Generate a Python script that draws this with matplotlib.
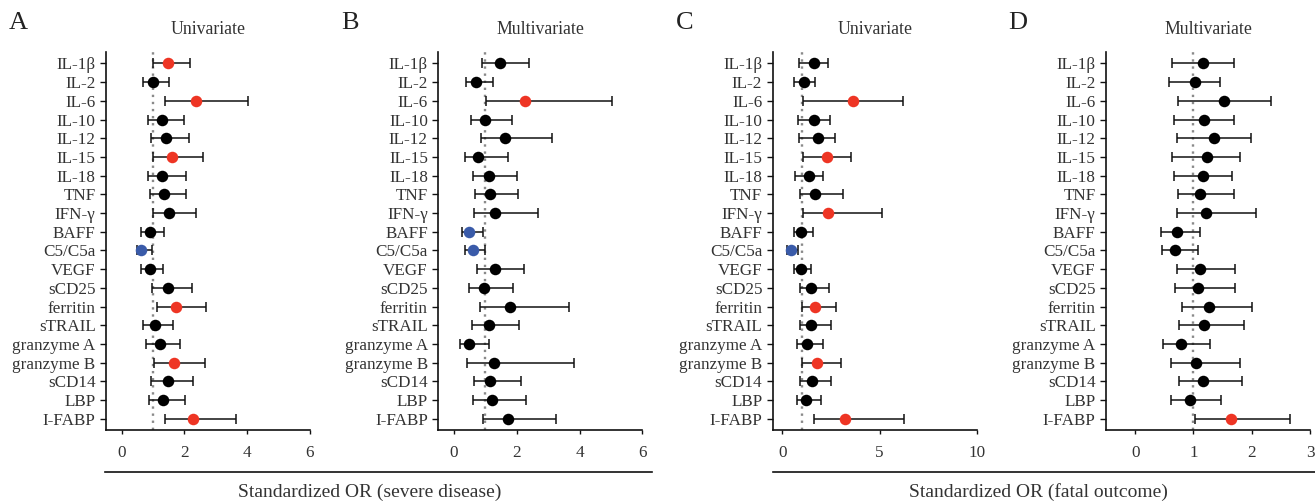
import matplotlib
matplotlib.use("Agg")
import matplotlib.pyplot as plt
from matplotlib.lines import Line2D

plt.rcParams['font.family'] = ['Liberation Serif', 'DejaVu Serif']

markers = ["IL-1β", "IL-2", "IL-6", "IL-10", "IL-12", "IL-15", "IL-18", "TNF", "IFN-γ",
           "BAFF", "C5/C5a", "VEGF", "sCD25", "ferritin", "sTRAIL", "granzyme A",
           "granzyme B", "sCD14", "LBP", "I-FABP"]

# Panel A: severe disease, univariate
a_or = [1.47, 1.01, 2.37, 1.30, 1.41, 1.61, 1.30, 1.35, 1.52, 0.91, 0.63, 0.91, 1.49, 1.73,
        1.07, 1.21, 1.66, 1.47, 1.33, 2.26]
a_lo = [0.99, 0.67, 1.38, 0.83, 0.93, 0.99, 0.83, 0.89, 0.99, 0.61, 0.48, 0.60, 0.98, 1.12,
        0.69, 0.77, 1.02, 0.93, 0.88, 1.38]
a_hi = [2.19, 1.52, 4.03, 1.97, 2.15, 2.60, 2.04, 2.04, 2.36, 1.36, 0.96, 1.33, 2.25, 2.70,
        1.64, 1.87, 2.65, 2.28, 2.01, 3.65]
a_sig = ["up", "ns", "up", "ns", "ns", "up", "ns", "ns", "ns", "ns", "down", "ns", "ns", "up",
         "ns", "ns", "up", "ns", "ns", "up"]

# Panel B: severe disease, multivariate
b_or = [1.45, 0.69, 2.26, 0.98, 1.62, 0.78, 1.12, 1.15, 1.31, 0.48, 0.59, 1.30, 0.95, 1.77,
        1.10, 0.48, 1.28, 1.16, 1.20, 1.72]
b_lo = [0.88, 0.39, 1.02, 0.54, 0.87, 0.36, 0.61, 0.66, 0.63, 0.25, 0.36, 0.74, 0.48, 0.84,
        0.58, 0.20, 0.41, 0.63, 0.61, 0.91]
b_hi = [2.38, 1.25, 5.03, 1.84, 3.11, 1.71, 2.01, 2.03, 2.68, 0.91, 0.98, 2.24, 1.89, 3.68,
        2.08, 1.10, 3.82, 2.15, 2.29, 3.24]
b_sig = ["ns", "ns", "up", "ns", "ns", "ns", "ns", "ns", "ns", "down", "down", "ns", "ns", "ns",
         "ns", "ns", "ns", "ns", "ns", "ns"]

# Panel C: fatal outcome, univariate
c_or = [1.60, 1.13, 3.61, 1.63, 1.82, 2.30, 1.36, 1.67, 2.37, 0.96, 0.46, 0.96, 1.48, 1.70,
        1.49, 1.27, 1.79, 1.53, 1.22, 3.20]
c_lo = [0.86, 0.62, 1.07, 0.82, 0.86, 1.08, 0.67, 0.89, 1.08, 0.58, 0.24, 0.58, 0.88, 1.03,
        0.88, 0.77, 1.03, 0.91, 0.76, 1.63]
c_hi = [2.35, 1.67, 6.20, 2.47, 2.73, 3.54, 2.08, 3.11, 5.15, 1.55, 0.81, 1.49, 2.41, 2.78,
        2.49, 2.08, 3.04, 2.49, 1.98, 6.27]
c_sig = ["ns", "ns", "up", "ns", "ns", "up", "ns", "ns", "up", "ns", "down", "ns", "ns", "up",
         "ns", "ns", "up", "ns", "ns", "up"]

# Panel D: fatal outcome, multivariate
d_or = [1.17, 1.02, 1.53, 1.18, 1.35, 1.23, 1.17, 1.11, 1.21, 0.71, 0.69, 1.12, 1.07, 1.26,
        1.18, 0.78, 1.05, 1.16, 0.94, 1.65]
d_lo = [0.64, 0.58, 0.73, 0.66, 0.72, 0.64, 0.66, 0.73, 0.71, 0.45, 0.46, 0.72, 0.68, 0.80,
        0.76, 0.48, 0.61, 0.75, 0.61, 1.02]
d_hi = [1.69, 1.46, 2.33, 1.70, 1.99, 1.80, 1.67, 1.70, 2.07, 1.12, 1.08, 1.71, 1.71, 2.01,
        1.86, 1.29, 1.80, 1.84, 1.47, 2.65]
d_sig = ["ns"] * 19 + ["up"]

panels = [
    ("A", "Univariate", a_or, a_lo, a_hi, a_sig, (-0.5, 6), [0, 2, 4, 6]),
    ("B", "Multivariate", b_or, b_lo, b_hi, b_sig, (-0.5, 6), [0, 2, 4, 6]),
    ("C", "Univariate", c_or, c_lo, c_hi, c_sig, (-0.5, 10), [0, 5, 10]),
    ("D", "Multivariate", d_or, d_lo, d_hi, d_sig, (-0.5, 3), [0, 1, 2, 3]),
]

sig_colors = {"up": "#EE3524", "ns": "#000000", "down": "#3A5BA9"}
text_col = "#333333"

W, H = 1315, 504
fig = plt.figure(figsize=(W / 100, H / 100), dpi=100)

lefts = [106, 438.3, 772.7, 1106]
ax_w = 204
ax_bottom = 430
ax_top = 51.7

for (letter, title, orv, lo, hi, sig, xlim, xticks), lpx in zip(panels, lefts):
    ax = fig.add_axes([lpx / W, (H - ax_bottom) / H, ax_w / W, (ax_bottom - ax_top) / H])
    ys = list(range(len(markers)))
    ax.axvline(1, color="#8a8a8a", linestyle=(0, (1, 2)), linewidth=1.7, zorder=1)
    for i, y in enumerate(ys):
        ax.errorbar([orv[i]], [y], xerr=[[orv[i] - lo[i]], [hi[i] - orv[i]]],
                    fmt="none", ecolor="#111111", elinewidth=1.1, capsize=3.8,
                    capthick=1.1, zorder=2)
        ax.plot(orv[i], y, "o", color=sig_colors[sig[i]], markersize=8.3,
                markeredgewidth=0, zorder=3)
    ax.set_xlim(*xlim)
    ax.set_ylim(len(markers) - 1 + 0.6, -0.63)
    ax.set_yticks(ys)
    ax.set_yticklabels(markers)
    ax.set_xticks(xticks)
    ax.set_xticklabels([str(t) for t in xticks])
    for s in ["top", "right"]:
        ax.spines[s].set_visible(False)
    for s in ["left", "bottom"]:
        ax.spines[s].set_linewidth(1.2)
        ax.spines[s].set_color("#111111")
    ax.tick_params(axis="y", length=4.5, width=1.0, colors="#111111",
                   labelcolor=text_col, labelsize=12.3, pad=3)
    ax.tick_params(axis="x", length=3, width=1.0, colors="#111111",
                   labelcolor=text_col, labelsize=12.3, pad=8)
    ax.set_title(title, fontsize=12.8, color=text_col, pad=13)
    fig.text((lpx - 88) / W, 1 - 23 / H, letter, fontsize=19, color="#222222",
             ha="center", va="center")

# grouped x-axis captions
for x0, x1, label, cx in [(105, 652, "Standardized OR (severe disease)", 370),
                          (773, 1315, "Standardized OR (fatal outcome)", 1038)]:
    fig.add_artist(Line2D([x0 / W, x1 / W], [1 - 472 / H, 1 - 472 / H],
                          color="#111111", linewidth=1.2))
    fig.text(cx / W, 1 - 492 / H, label, fontsize=14, color=text_col,
             ha="center", va="center")

fig.savefig("out.png", dpi=100)
